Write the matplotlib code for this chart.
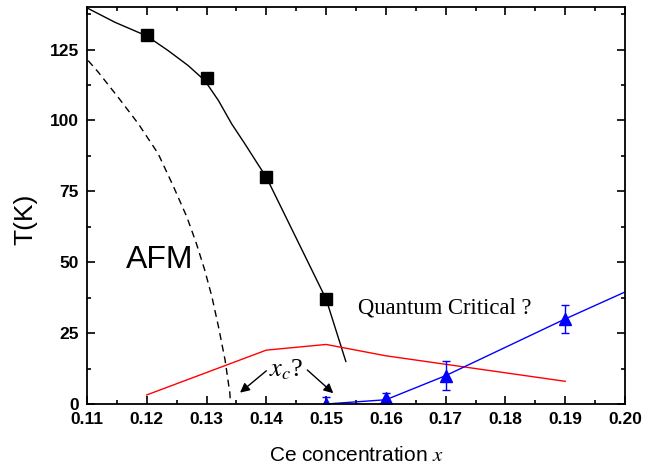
import matplotlib
matplotlib.use("Agg")
import matplotlib.pyplot as plt
from matplotlib.ticker import MultipleLocator

plt.rcParams['font.family'] = ['Liberation Sans', 'DejaVu Sans']
plt.rcParams['mathtext.fontset'] = 'stix'

# AFM transition (squares) and fitted curve
x_afm = [0.12, 0.13, 0.14, 0.15]
t_afm = [130, 115, 80, 37]
x_afm_fit = [0.1100, 0.1147, 0.1200, 0.1236, 0.1269, 0.1297, 0.1320, 0.1342,
             0.1364, 0.1387, 0.1400, 0.1450, 0.1500, 0.1533]
t_afm_fit = [139.7, 134.6, 129.8, 124.6, 119.4, 114.1, 107.0, 98.8,
             91.8, 84.2, 80.0, 58.5, 37.0, 15.0]

# dashed boundary
x_dash = [0.1102, 0.1119, 0.1152, 0.1186, 0.1219, 0.1244, 0.1267, 0.1283,
          0.1297, 0.1309, 0.1320, 0.1331, 0.1339, 0.1340]
t_dash = [121.1, 117.0, 108.2, 98.8, 88.3, 77.0, 66.0, 56.6,
          47.2, 37.8, 27.2, 15.5, 3.8, 0.0]

# red line
x_red = [0.12, 0.14, 0.15, 0.16, 0.19]
t_red = [3.2, 19.0, 21.0, 17.0, 8.0]

# blue triangles with error bars
x_qc = [0.15, 0.16, 0.17, 0.19]
t_qc = [0.0, 2.0, 10.0, 30.0]
err_qc = [2.5, 2.0, 5.0, 5.0]
x_qc_line = [0.15, 0.16, 0.17, 0.19, 0.20]
t_qc_line = [0.0, 1.5, 10.0, 30.0, 39.5]

fig = plt.figure(figsize=(6.63, 4.69), dpi=100)
ax = fig.add_axes([0.1312, 0.1386, 0.8115, 0.8464])

ax.plot(x_afm_fit, t_afm_fit, color='black', lw=1.0)
ax.plot(x_afm, t_afm, 's', color='black', ms=8.5)
ax.plot(x_dash, t_dash, color='black', lw=1.0, dashes=(5, 3.5))
ax.plot(x_red, t_red, color='red', lw=1.0)
ax.plot(x_qc_line, t_qc_line, color='blue', lw=1.0)
ax.errorbar(x_qc, t_qc, yerr=err_qc, fmt='^', color='blue', ms=8.5,
            elinewidth=1.0, capsize=3, capthick=1.0)

ax.text(0.1221, 50.7, "AFM", fontsize=23, ha='center', va='center')
ax.text(0.1553, 32, "Quantum Critical ?", fontsize=16.3, family='Liberation Serif',
        ha='left', va='baseline')
ax.text(0.1433, 9.6, r"$x_c$?", fontsize=19, family='Liberation Serif',
        ha='center', va='baseline')

arrow = dict(arrowstyle='-|>', color='black', lw=1.0, mutation_scale=14,
             shrinkA=0, shrinkB=0)
ax.annotate("", xy=(0.1356, 4.0), xytext=(0.1400, 11.7), arrowprops=arrow)
ax.annotate("", xy=(0.1512, 3.8), xytext=(0.14685, 12.0), arrowprops=arrow)

ax.set_xlim(0.11, 0.20)
ax.set_ylim(0, 140)
ax.xaxis.set_major_locator(MultipleLocator(0.01))
ax.xaxis.set_minor_locator(MultipleLocator(0.005))
ax.yaxis.set_major_locator(MultipleLocator(25))
ax.yaxis.set_minor_locator(MultipleLocator(12.5))
ax.xaxis.set_major_formatter(plt.FuncFormatter(lambda v, p: "%.2f" % v))

ax.tick_params(which='both', direction='in', top=True, right=True, width=1.2)
ax.tick_params(which='major', length=5.5, labelsize=12.5, pad=6)
ax.tick_params(which='minor', length=3)
for lab in ax.get_xticklabels() + ax.get_yticklabels():
    lab.set_fontweight('bold')
for s in ax.spines.values():
    s.set_linewidth(1.3)

ax.set_xlabel("Ce concentration $x$", fontsize=15)
ax.set_ylabel("T(K)", fontsize=19)
ax.yaxis.set_label_coords(-0.093, 0.466)
ax.xaxis.set_label_coords(0.5, -0.105)

fig.savefig("out.png", dpi=100)
